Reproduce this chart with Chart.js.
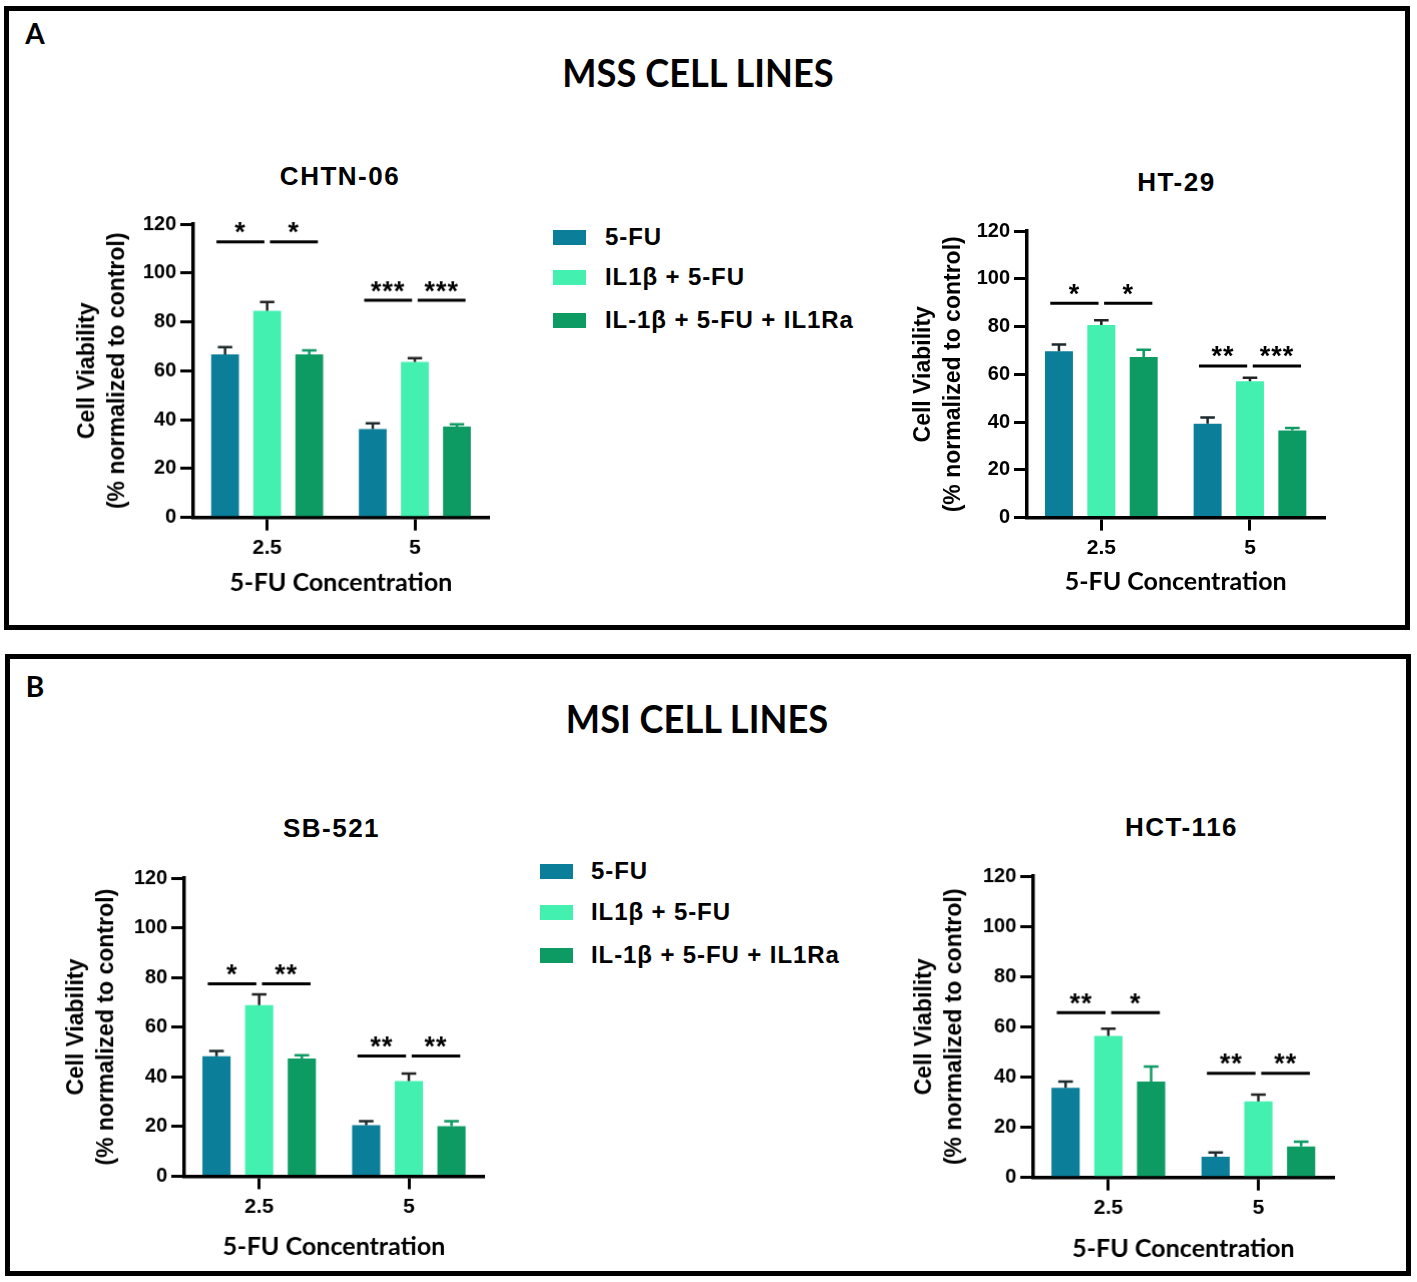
<!DOCTYPE html>
<html>
<head>
<meta charset="utf-8">
<script src="https://cdn.jsdelivr.net/npm/chart.js@4.4.1/dist/chart.umd.min.js"></script>
<style>
html,body{margin:0;padding:0;background:#fff;}
body{width:1417px;height:1282px;position:relative;overflow:hidden;font-family:'Liberation Sans',Arial,sans-serif;color:#000;}
.panel{position:absolute;box-sizing:border-box;border:5px solid #000;}
.plabel{position:absolute;font-family:Lato,'Liberation Sans',sans-serif;font-weight:700;font-size:28px;line-height:1;transform:translate(-50%,-50%);}
.ptitle{position:absolute;font-family:Lato,'Liberation Sans',sans-serif;font-weight:700;font-size:39px;line-height:1;transform:translate(-50%,-50%) scaleX(0.93);white-space:nowrap;}
.ctitle{position:absolute;font-weight:700;font-size:26px;letter-spacing:1.5px;line-height:1;transform:translate(-50%,-50%);white-space:nowrap;}
.lg-box{position:absolute;width:33px;height:15px;}
.lg-text{position:absolute;font-weight:700;font-size:24px;letter-spacing:0.9px;line-height:1;transform:translateY(-50%);white-space:nowrap;}
.cw{position:absolute;}
</style>
</head>
<body>
<div class="panel" style="left:4px;top:6px;width:1406px;height:624px;"></div>
<div class="panel" style="left:5px;top:654px;width:1406px;height:622px;"></div>
<div class="plabel" style="left:35px;top:33px;">A</div>
<div class="plabel" style="left:35px;top:686px;">B</div>
<div class="ptitle" style="left:698px;top:72px;">MSS CELL LINES</div>
<div class="ptitle" style="left:697px;top:718px;">MSI CELL LINES</div>
<script>
// ---------------- DATA ----------------
const categories = ['2.5', '5'];
const seriesNames = ['5-FU', 'IL1β + 5-FU', 'IL-1β + 5-FU + IL1Ra'];
const yTickValues = [0, 20, 40, 60, 80, 100, 120];
const xAxisTitle = '5-FU Concentration';
const yAxisTitle = ['Cell Viability', '(% normalized to control)'];

// CHTN-06
const chtn06_5FU = [66.7, 36.2];
const chtn06_5FU_sem = [3.0, 2.3];
const chtn06_IL1b = [84.5, 63.6];
const chtn06_IL1b_sem = [3.6, 1.6];
const chtn06_IL1Ra = [66.7, 37.2];
const chtn06_IL1Ra_sem = [1.6, 0.9];
const chtn06_sigLevel = [112.7, 88.8];
const chtn06_sigLabels = [['*', '*'], ['***', '***']];

// HT-29
const ht29_5FU = [69.7, 39.3];
const ht29_5FU_sem = [2.8, 2.6];
const ht29_IL1b = [80.6, 57.1];
const ht29_IL1b_sem = [2.0, 1.5];
const ht29_IL1Ra = [67.2, 36.5];
const ht29_IL1Ra_sem = [3.1, 1.0];
const ht29_sigLevel = [89.8, 63.5];
const ht29_sigLabels = [['*', '*'], ['**', '***']];

// SB-521
const sb521_5FU = [48.3, 20.5];
const sb521_5FU_sem = [2.1, 1.7];
const sb521_IL1b = [68.9, 38.3];
const sb521_IL1b_sem = [4.3, 3.0];
const sb521_IL1Ra = [47.4, 20.1];
const sb521_IL1Ra_sem = [1.3, 2.1];
const sb521_sigLevel = [77.4, 48.4];
const sb521_sigLabels = [['*', '**'], ['**', '**']];

// HCT-116
const hct116_5FU = [35.7, 8.3];
const hct116_5FU_sem = [2.5, 1.7];
const hct116_IL1b = [56.3, 30.3];
const hct116_IL1b_sem = [2.9, 2.7];
const hct116_IL1Ra = [38.2, 12.4];
const hct116_IL1Ra_sem = [6.0, 1.8];
const hct116_sigLevel = [65.6, 41.5];
const hct116_sigLabels = [['**', '*'], ['**', '**']];

// ---------------- STYLE ----------------
const barColors = ['#0b7e99', '#43f0b0', '#0e9a63'];
const errColors = ['#1d2a2d', '#222222', '#0e9a63'];
const FONT = "'Liberation Sans', Arial, sans-serif";
Chart.defaults.font.family = FONT;
Chart.defaults.color = '#000';

// ---------------- LAYOUT ----------------
const charts = [
  {title: 'CHTN-06', tx: 340, ty: 176, L: 193, T: 224, R: 487.7, B: 516.7, yTitleX: 88, xTitleY: 582.3,
   means: [chtn06_5FU, chtn06_IL1b, chtn06_IL1Ra], sems: [chtn06_5FU_sem, chtn06_IL1b_sem, chtn06_IL1Ra_sem],
   sigLevel: chtn06_sigLevel, sigLabels: chtn06_sigLabels},
  {title: 'HT-29', tx: 1176.5, ty: 181.5, L: 1026.7, T: 230.7, R: 1324, B: 517.3, yTitleX: 923.3, xTitleY: 581.7,
   means: [ht29_5FU, ht29_IL1b, ht29_IL1Ra], sems: [ht29_5FU_sem, ht29_IL1b_sem, ht29_IL1Ra_sem],
   sigLevel: ht29_sigLevel, sigLabels: ht29_sigLabels},
  {title: 'SB-521', tx: 331.5, ty: 828.3, L: 184, T: 878.3, R: 482.7, B: 1175.7, yTitleX: 76.5, xTitleY: 1246.7,
   means: [sb521_5FU, sb521_IL1b, sb521_IL1Ra], sems: [sb521_5FU_sem, sb521_IL1b_sem, sb521_IL1Ra_sem],
   sigLevel: sb521_sigLevel, sigLabels: sb521_sigLabels},
  {title: 'HCT-116', tx: 1181.5, ty: 826.7, L: 1033.3, T: 876, R: 1332.7, B: 1176.7, yTitleX: 925, xTitleY: 1248.3,
   means: [hct116_5FU, hct116_IL1b, hct116_IL1Ra], sems: [hct116_5FU_sem, hct116_IL1b_sem, hct116_IL1Ra_sem],
   sigLevel: hct116_sigLevel, sigLabels: hct116_sigLabels}
];
const legends = [
  {boxX: 553, textX: 605, rows: [237, 277, 320]},
  {boxX: 540, textX: 591, rows: [871, 912, 955]}
];

// ---------------- LEGENDS ----------------
legends.forEach(lg => {
  seriesNames.forEach((name, i) => {
    const b = document.createElement('div');
    b.className = 'lg-box';
    b.style.left = lg.boxX + 'px';
    b.style.top = (lg.rows[i] - 7.5) + 'px';
    b.style.background = barColors[i];
    document.body.appendChild(b);
    const t = document.createElement('div');
    t.className = 'lg-text';
    t.style.left = lg.textX + 'px';
    t.style.top = lg.rows[i] + 'px';
    t.textContent = name;
    document.body.appendChild(t);
  });
});

// ---------------- PLUGINS ----------------
const errorBarPlugin = {
  id: 'errbars',
  afterDatasetsDraw(chart) {
    const ctx = chart.ctx, ys = chart.scales.y;
    chart.data.datasets.forEach((ds, di) => {
      const meta = chart.getDatasetMeta(di);
      meta.data.forEach((el, i) => {
        const v = ds.data[i], e = ds.sem[i];
        const yTop = ys.getPixelForValue(v);
        const yErr = ys.getPixelForValue(v + e);
        const half = el.width * 0.26;
        ctx.save();
        ctx.strokeStyle = ds.errColor;
        ctx.lineWidth = 2.5;
        ctx.beginPath();
        ctx.moveTo(el.x, yTop);
        ctx.lineTo(el.x, yErr);
        ctx.moveTo(el.x - half, yErr);
        ctx.lineTo(el.x + half, yErr);
        ctx.stroke();
        ctx.restore();
      });
    });
  }
};

function makeSigPlugin(spec) {
  return {
    id: 'sig',
    afterDatasetsDraw(chart) {
      const ctx = chart.ctx, ys = chart.scales.y;
      categories.forEach((c, i) => {
        const b0 = chart.getDatasetMeta(0).data[i];
        const b1 = chart.getDatasetMeta(1).data[i];
        const b2 = chart.getDatasetMeta(2).data[i];
        const bw = b0.width;
        const y = ys.getPixelForValue(spec.sigLevel[i]);
        const segs = [
          [b0.x - 0.31 * bw, b1.x - 0.1 * bw],
          [b1.x + 0.1 * bw, b2.x + 0.31 * bw]
        ];
        ctx.save();
        ctx.strokeStyle = '#000';
        ctx.lineWidth = 3;
        ctx.fillStyle = '#000';
        ctx.font = "bold 27px " + FONT;
        if ('letterSpacing' in ctx) ctx.letterSpacing = '1px';
        ctx.textAlign = 'center';
        ctx.textBaseline = 'alphabetic';
        segs.forEach((s, k) => {
          ctx.beginPath();
          ctx.moveTo(s[0], y);
          ctx.lineTo(s[1], y);
          ctx.stroke();
          ctx.fillText(spec.sigLabels[i][k], (s[0] + s[1]) / 2, y - 0.5);
        });
        ctx.restore();
      });
    }
  };
}

// ---------------- CHARTS ----------------
const PAD_TOP = 20, PAD_RIGHT = 12, Y_W = 135, X_H = 95;
const Y_TITLE_LH = 30, X_TITLE_SIZE = 25, X_TITLE_LH = 1.2;

charts.forEach(spec => {
  const t = document.createElement('div');
  t.className = 'ctitle';
  t.style.left = spec.tx + 'px';
  t.style.top = spec.ty + 'px';
  t.textContent = spec.title;
  document.body.appendChild(t);

  const plotW = spec.R - spec.L, plotH = spec.B - spec.T;
  const cw = plotW + Y_W + PAD_RIGHT, ch = plotH + PAD_TOP + X_H;
  const left = spec.L - Y_W, top = spec.T - PAD_TOP;
  const wrap = document.createElement('div');
  wrap.className = 'cw';
  wrap.style.left = left + 'px';
  wrap.style.top = top + 'px';
  wrap.style.width = cw + 'px';
  wrap.style.height = ch + 'px';
  const canvas = document.createElement('canvas');
  wrap.appendChild(canvas);
  document.body.appendChild(wrap);

  const yTitlePad = spec.yTitleX - left - Y_TITLE_LH / 2;
  const xTitlePadBottom = ch - (X_TITLE_SIZE * X_TITLE_LH) / 2 - (spec.xTitleY - top);

  new Chart(canvas, {
    type: 'bar',
    data: {
      labels: categories,
      datasets: spec.means.map((m, i) => ({
        label: seriesNames[i],
        data: m,
        sem: spec.sems[i],
        errColor: errColors[i],
        backgroundColor: barColors[i],
        borderWidth: 0,
        categoryPercentage: 0.855,
        barPercentage: 0.66
      }))
    },
    options: {
      responsive: true,
      maintainAspectRatio: false,
      animation: false,
      layout: {padding: {top: PAD_TOP, right: PAD_RIGHT, left: 0, bottom: 0}},
      plugins: {legend: {display: false}, tooltip: {enabled: false}, title: {display: false}},
      scales: {
        x: {
          z: 1,
          offset: true,
          grid: {offset: false, drawOnChartArea: false, drawTicks: true, tickLength: 13, tickWidth: 3, tickColor: '#000', color: '#000', lineWidth: 3},
          border: {display: true, color: '#000', width: 3.5},
          ticks: {color: '#000', font: {size: 21, weight: 'bold'}, padding: 5, maxRotation: 0, autoSkip: false},
          title: {display: true, text: xAxisTitle, color: '#000',
                  font: {family: "Lato, 'Liberation Sans', sans-serif", size: X_TITLE_SIZE, weight: 'bold', lineHeight: X_TITLE_LH},
                  padding: {top: 0, bottom: xTitlePadBottom}},
          afterFit: s => { s.height = X_H; }
        },
        y: {
          z: 1,
          min: 0,
          max: 120,
          afterBuildTicks: s => { s.ticks = yTickValues.map(v => ({value: v})); },
          grid: {drawOnChartArea: false, drawTicks: true, tickLength: 13, tickWidth: 3, tickColor: '#000', color: '#000', lineWidth: 3},
          border: {display: true, color: '#000', width: 3.5},
          ticks: {color: '#000', font: {size: 20, weight: 'bold'}, padding: 4},
          title: {display: true, text: yAxisTitle, color: '#000',
                  font: {size: 23, weight: 'bold', lineHeight: Y_TITLE_LH / 23},
                  padding: {top: yTitlePad, bottom: 0}},
          afterFit: s => { s.width = Y_W; }
        }
      }
    },
    plugins: [errorBarPlugin, makeSigPlugin(spec)]
  });
});
</script>
</body>
</html>
